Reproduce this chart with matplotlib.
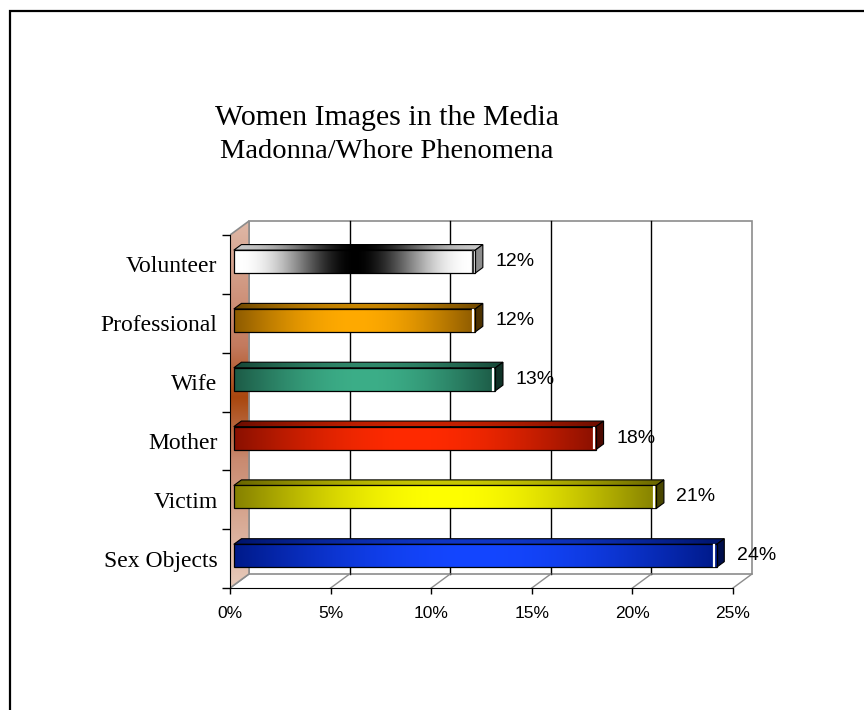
import numpy as np
import matplotlib
matplotlib.use("Agg")
import matplotlib.pyplot as plt
from matplotlib.patches import Polygon, Rectangle
from matplotlib.colors import to_rgb

# data, bottom to top
categories = ["Sex Objects", "Victim", "Mother", "Wife", "Professional", "Volunteer"]
values = [24, 21, 18, 13, 12, 12]
xticks = [0, 5, 10, 15, 20, 25]
xtick_labels = ["0%", "5%", "10%", "15%", "20%", "25%"]

# bar colours: (colour at the ends, colour in the middle)
bar_colors = [("#001a8a", "#1446ff"),
              ("#858000", "#ffff00"),
              ("#8a1000", "#ff2a00"),
              ("#1c5a46", "#3cae88"),
              ("#8c5a00", "#ffaa00"),
              ("#ffffff", "#000000")]
bar_power = [1.0, 1.0, 1.0, 1.0, 1.0, 2.5]
edge_hi = ["white", "white", "white", "white", "white", "#333333"]

serif = ["Liberation Serif", "DejaVu Serif"]
sans = ["Liberation Sans", "DejaVu Sans"]

# 3-d look: depth of the chart box in data units, bar depth fractions
DX, DY = 0.945, 0.238
F0, F1 = 0.2, 0.6
BAR_H = 0.39
XMAX, YMAX = 26.6, 6.5
px_x, px_y = 20.12, 58.83

fig = plt.figure(figsize=(8.64, 7.10), dpi=100)
ax = fig.add_axes([230 / 864, (710 - 588) / 710,
                   XMAX * px_x / 864, YMAX * px_y / 710])
ax.set_facecolor("none")


def gradient(c_end, c_mid, p, n=256, scale=1.0):
    t = np.linspace(0, 1, n)
    s = np.sin(np.pi * t) ** p
    a, b = np.array(to_rgb(c_end)), np.array(to_rgb(c_mid))
    g = a[None, :] + (b - a)[None, :] * s[:, None]
    return np.clip(g * scale, 0, 1)[None, :, :]


# back wall
ax.add_patch(Polygon([(DX, DY), (25 + DX, DY), (25 + DX, 6 + DY), (DX, 6 + DY)],
                     closed=True, facecolor="white", edgecolor="#8c8c8c",
                     lw=1.2, zorder=1))
for x in xticks[1:-1]:
    ax.plot([x + DX, x + DX], [DY, 6 + DY], color="black", lw=1.0, zorder=2)
# floor
for x in xticks:
    ax.plot([x, x + DX], [0, DY], color="#8c8c8c", lw=1.0, zorder=2)

# left wall with vertical gradient
wall = Polygon([(0, 0), (DX, DY), (DX, 6 + DY), (0, 6)], closed=True,
               facecolor="none", edgecolor="#8c8c8c", lw=1.2, zorder=4)
ax.add_patch(wall)
stops = [(0.0, "#e8cbbb"), (0.35, "#c98a70"), (0.52, "#a9470e"),
         (0.66, "#c37a5e"), (1.0, "#dfb8a7")]
yy = np.linspace(0, 1, 256)
wall_col = np.zeros((256, 3))
for k in range(3):
    wall_col[:, k] = np.interp(yy, [s[0] for s in stops],
                               [to_rgb(s[1])[k] for s in stops])
im = ax.imshow(wall_col[::-1, None, :], extent=[0, DX, 0, 6 + DY],
               aspect="auto", interpolation="bilinear", zorder=3)
im.set_clip_path(wall)

# bars
for i, (cat, v) in enumerate(zip(categories, values)):
    c_end, c_mid = bar_colors[i]
    p = bar_power[i]
    x0 = F0 * DX
    x1 = x0 + v
    y0 = i + 0.5 - BAR_H / 2 + F0 * DY
    y1 = y0 + BAR_H
    ddx, ddy = (F1 - F0) * DX, (F1 - F0) * DY

    # top face
    top = Polygon([(x0, y1), (x1, y1), (x1 + ddx, y1 + ddy), (x0 + ddx, y1 + ddy)],
                  closed=True, facecolor="none", edgecolor="black", lw=0.8, zorder=7)
    ax.add_patch(top)
    tim = ax.imshow(gradient(c_end, c_mid, p, scale=0.78),
                    extent=[x0, x1 + ddx, y1, y1 + ddy],
                    aspect="auto", interpolation="bilinear", zorder=6)
    tim.set_clip_path(top)

    # right side face
    side_rgb = np.array(to_rgb(c_end)) * 0.55
    ax.add_patch(Polygon([(x1, y0), (x1, y1), (x1 + ddx, y1 + ddy), (x1 + ddx, y0 + ddy)],
                         closed=True, facecolor=side_rgb, edgecolor="black",
                         lw=0.8, zorder=7))

    # front face
    ax.imshow(gradient(c_end, c_mid, p), extent=[x0, x1, y0, y1],
              aspect="auto", interpolation="bilinear", zorder=8)
    ax.add_patch(Rectangle((x0, y0), v, BAR_H, facecolor="none",
                           edgecolor="black", lw=0.9, zorder=9))
    ax.plot([x1 - 0.12, x1 - 0.12], [y0 + 0.02, y1 - 0.02],
            color=edge_hi[i], lw=1.6, zorder=9)

    ax.annotate(f"{v}%", xy=(x1 + ddx, i + 0.5 + F0 * DY),
                xytext=(9, 0), textcoords="offset points",
                ha="left", va="center", fontsize=14, family=sans, zorder=10)

# axes
ax.set_xlim(0, XMAX)
ax.set_ylim(0, YMAX)
for s in ["top", "right"]:
    ax.spines[s].set_visible(False)
ax.spines["left"].set_bounds(0, 6)
ax.spines["bottom"].set_bounds(0, 25)
ax.spines["left"].set_zorder(5)
ax.spines["bottom"].set_zorder(5)

ax.set_xticks(xticks)
ax.set_xticklabels(xtick_labels, family=sans, fontsize=12.5)
ax.tick_params(axis="x", direction="out", length=4, width=1, pad=9)

ax.set_yticks(np.arange(0, 7))
ax.set_yticklabels([])
ax.set_yticks(np.arange(len(categories)) + 0.5, minor=True)
ax.set_yticklabels(categories, minor=True, family=serif, fontsize=17)
ax.tick_params(axis="y", which="major", direction="out", length=6, width=1)
ax.tick_params(axis="y", which="minor", length=0, pad=9)

# title
fig.text(387 / 864, 1 - 118 / 710, "Women Images in the Media",
         ha="center", va="center", family=serif, fontsize=21.5)
fig.text(387 / 864, 1 - 152 / 710, "Madonna/Whore Phenomena",
         ha="center", va="center", family=serif, fontsize=20.5)

# slide frame
fig.add_artist(Rectangle((10 / 864, -0.2), 1.5, 1.2 - 11 / 710,
                         transform=fig.transFigure, fill=False,
                         edgecolor="black", lw=1.6))

fig.savefig("out.png", dpi=100)
